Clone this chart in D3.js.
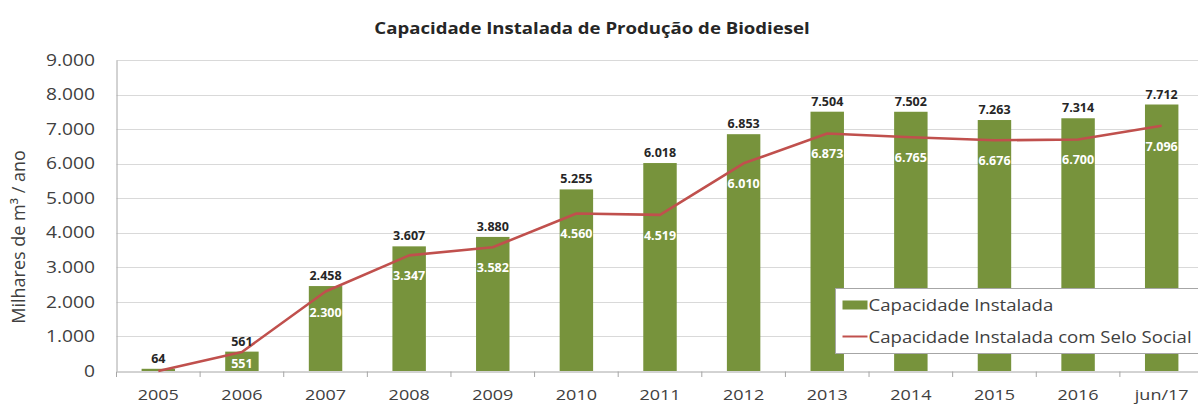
<!DOCTYPE html>
<html>
<head>
<meta charset="utf-8">
<script src="https://cdn.jsdelivr.net/npm/d3@7"></script>
<style>
  html, body { margin: 0; padding: 0; background: #fff; }
  svg { display: block; font-family: "Open Sans", sans-serif; }
</style>
</head>
<body>
<svg id="chart" width="1198" height="405"></svg>
<script>
// Capacidade instalada de produção de biodiesel (mil m³/ano)
const categories = ["2005", "2006", "2007", "2008", "2009", "2010", "2011", "2012", "2013", "2014", "2015", "2016", "jun/17"];
const capacidadeInstalada = [64, 561, 2458, 3607, 3880, 5255, 6018, 6853, 7504, 7502, 7263, 7314, 7712];
const capacidadeSeloSocial = [0, 551, 2300, 3347, 3582, 4560, 4519, 6010, 6873, 6765, 6676, 6700, 7096];
const yTicks = [0, 1000, 2000, 3000, 4000, 5000, 6000, 7000, 8000, 9000];

const seriesNames = ["Capacidade Instalada", "Capacidade Instalada com Selo Social"];
const title = "Capacidade Instalada de Produção de Biodiesel";
const yTitle = "Milhares de m³ / ano";

const barColor = "#77933c";
const lineColor = "#c0504d";
const textColor = "#404040";
const SX = 1.2; // horizontal widening of the label glyphs

const ptBR = d3.formatLocale({ decimal: ",", thousands: ".", grouping: [3], currency: ["R$", ""] });
const fmt = ptBR.format(",d");

const svg = d3.select("#chart");
const W = 1198;

const x = d3.scaleBand().domain(categories).range([116.5, 1203.5]).paddingInner(0).paddingOuter(0);
const y = d3.scaleLinear().domain([0, 9000]).range([371, 60]);
const barFrac = 0.4;
const cx = c => x(c) + x.bandwidth() / 2;

// text placed at (px, py) with widened glyphs
function wideText(parent, px, py, str, size, opts = {}) {
  return parent.append("text")
    .attr("transform", `translate(${px},${py}) scale(${SX},1)`)
    .attr("text-anchor", opts.anchor || "start")
    .attr("font-size", size)
    .attr("font-weight", opts.weight || "normal")
    .attr("fill", opts.fill || textColor)
    .text(str);
}

// Title
wideText(svg, 592, 34, title, 15.5, { anchor: "middle", weight: "bold", fill: "#262626" });

// Horizontal gridlines
svg.append("g").selectAll("line")
  .data(yTicks.filter(t => t > 0))
  .join("line")
  .attr("x1", 116.5).attr("x2", W)
  .attr("y1", d => Math.round(y(d)) + 0.5).attr("y2", d => Math.round(y(d)) + 0.5)
  .attr("stroke", "#d9d9d9").attr("stroke-width", 1.2);

// Y axis
const yAxis = svg.append("g")
  .attr("transform", "translate(116.5,0)")
  .call(d3.axisLeft(y).tickValues(yTicks).tickFormat(fmt).tickSize(0).tickPadding(18));
yAxis.select(".domain").attr("stroke", "#a6a6a6");
yAxis.selectAll("text")
  .attr("font-size", 16).attr("fill", textColor).attr("font-family", "Open Sans, sans-serif")
  .attr("transform", `scale(${SX},1)`);

// X axis
const xAxis = svg.append("g")
  .attr("transform", "translate(0,371.5)")
  .call(d3.axisBottom(x).tickSize(0).tickPadding(18));
xAxis.select(".domain").attr("stroke", "#a6a6a6");
xAxis.selectAll("text")
  .attr("font-size", 15).attr("fill", textColor).attr("font-family", "Open Sans, sans-serif")
  .attr("transform", `scale(${SX},1)`);
// tick marks at category boundaries
svg.append("g").selectAll("line")
  .data(categories)
  .join("line")
  .attr("x1", d => x(d)).attr("x2", d => x(d))
  .attr("y1", 371.5).attr("y2", 377)
  .attr("stroke", "#a6a6a6");

// Y axis title
svg.append("text")
  .attr("transform", "translate(25,237) rotate(-90)")
  .attr("text-anchor", "middle")
  .attr("font-size", 18)
  .attr("fill", textColor)
  .text(yTitle);

// Bars
const bw = x.bandwidth() * barFrac;
const defs = svg.append("defs");
categories.forEach((c, i) => {
  defs.append("clipPath").attr("id", "clip" + i)
    .append("rect")
    .attr("x", cx(c) - bw / 2).attr("width", bw)
    .attr("y", y(capacidadeInstalada[i])).attr("height", y(0) - y(capacidadeInstalada[i]));
});

svg.append("g").selectAll("rect")
  .data(categories)
  .join("rect")
  .attr("x", d => cx(d) - bw / 2)
  .attr("width", bw)
  .attr("y", (d, i) => y(capacidadeInstalada[i]))
  .attr("height", (d, i) => y(0) - y(capacidadeInstalada[i]))
  .attr("fill", barColor);

// Line series
const line = d3.line()
  .x((d, i) => cx(categories[i]))
  .y(d => y(d));
svg.append("path")
  .datum(capacidadeSeloSocial)
  .attr("d", line)
  .attr("fill", "none")
  .attr("stroke", lineColor)
  .attr("stroke-width", 2.6)
  .attr("stroke-linejoin", "round");

// Bar value labels
svg.append("g").selectAll("text")
  .data(categories)
  .join("text")
  .attr("x", d => cx(d))
  .attr("y", (d, i) => y(capacidadeInstalada[i]) - 6)
  .attr("text-anchor", "middle")
  .attr("font-size", 12.5).attr("font-weight", "bold")
  .attr("fill", "#262626")
  .text((d, i) => fmt(capacidadeInstalada[i]));

// Line value labels (white, inside the bars)
svg.append("g").selectAll("text")
  .data(categories.filter((c, i) => capacidadeSeloSocial[i] > 0))
  .join("text")
  .attr("clip-path", d => "url(#clip" + categories.indexOf(d) + ")")
  .attr("x", d => cx(d))
  .attr("y", d => Math.min(y(capacidadeSeloSocial[categories.indexOf(d)]) + 25, y(0) - 3))
  .attr("text-anchor", "middle")
  .attr("font-size", 12.5).attr("font-weight", "bold")
  .attr("fill", "#ffffff")
  .text(d => fmt(capacidadeSeloSocial[categories.indexOf(d)]));

// Legend
const lg = svg.append("g").attr("transform", "translate(835.5,288.5)");
lg.append("rect").attr("width", 370).attr("height", 65)
  .attr("fill", "#fff").attr("stroke", "#a6a6a6");
lg.append("rect").attr("x", 7).attr("y", 12).attr("width", 25).attr("height", 9).attr("fill", barColor);
lg.append("line").attr("x1", 7).attr("x2", 32).attr("y1", 48).attr("y2", 48)
  .attr("stroke", lineColor).attr("stroke-width", 2);
wideText(lg, 33, 22, seriesNames[0], 15.5);
wideText(lg, 33, 54, seriesNames[1], 15.5);
</script>
</body>
</html>
